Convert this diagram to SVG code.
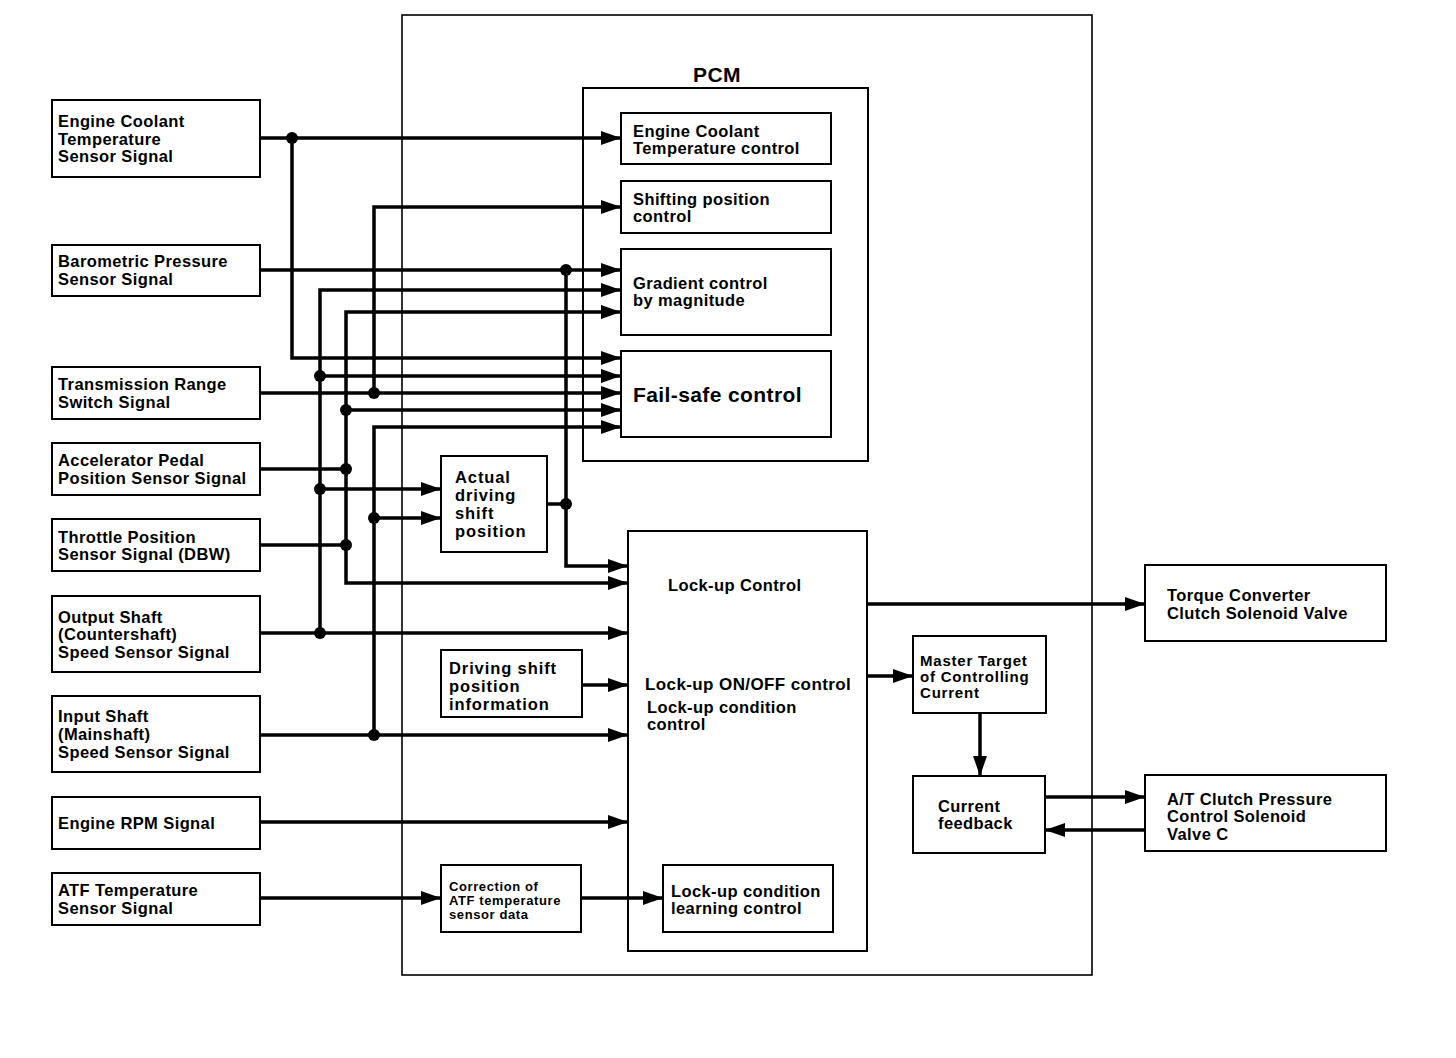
<svg xmlns="http://www.w3.org/2000/svg" width="1456" height="1058" viewBox="0 0 1456 1058">
<defs>
<marker id="ah" markerUnits="userSpaceOnUse" markerWidth="22" markerHeight="14" refX="20" refY="7" orient="auto">
<path d="M0,0 L20,7 L0,14 Z" fill="#000"/>
</marker>
<style>
.box{fill:#fff;stroke:#000;stroke-width:2}
.frame{fill:none;stroke:#000;stroke-width:1.6}
.t{font-family:"Liberation Sans",Arial,sans-serif;font-weight:bold;font-size:16.5px;letter-spacing:0.4px;fill:#000}
.m{font-size:16.5px;letter-spacing:0.9px}
.s{font-size:13px;letter-spacing:0.6px}
.c{fill:none;stroke:#000;stroke-width:3.5}
.a{marker-end:url(#ah)}
.dot{fill:#000}
</style>
</defs>
<rect width="1456" height="1058" fill="#fff"/>

<g id="pcm">
<rect class="frame" x="402" y="15" width="690" height="960"/>
<text class="t" x="717" y="82" text-anchor="middle" style="font-size:21px">PCM</text>
<rect class="box" x="583" y="88" width="285" height="373"/>
</g>

<g id="ect-sensor"><rect class="box" x="52" y="100" width="208" height="77"/>
<text class="t" x="58" y="127">Engine Coolant</text><text class="t" x="58" y="145">Temperature</text><text class="t" x="58" y="162">Sensor Signal</text></g>
<g id="baro-sensor"><rect class="box" x="52" y="245" width="208" height="51"/>
<text class="t" x="58" y="267">Barometric Pressure</text><text class="t" x="58" y="285">Sensor Signal</text></g>
<g id="tr-switch"><rect class="box" x="52" y="367" width="208" height="52"/>
<text class="t" x="58" y="390">Transmission Range</text><text class="t" x="58" y="408">Switch Signal</text></g>
<g id="app-sensor"><rect class="box" x="52" y="443" width="208" height="52"/>
<text class="t" x="58" y="466">Accelerator Pedal</text><text class="t" x="58" y="484">Position Sensor Signal</text></g>
<g id="tp-sensor"><rect class="box" x="52" y="519" width="208" height="52"/>
<text class="t" x="58" y="543">Throttle Position</text><text class="t" x="58" y="560">Sensor Signal (DBW)</text></g>
<g id="output-shaft"><rect class="box" x="52" y="596" width="208" height="76"/>
<text class="t" x="58" y="623">Output Shaft</text><text class="t" x="58" y="640">(Countershaft)</text><text class="t" x="58" y="658">Speed Sensor Signal</text></g>
<g id="input-shaft"><rect class="box" x="52" y="696" width="208" height="76"/>
<text class="t" x="58" y="722">Input Shaft</text><text class="t" x="58" y="740">(Mainshaft)</text><text class="t" x="58" y="758">Speed Sensor Signal</text></g>
<g id="rpm"><rect class="box" x="52" y="797" width="208" height="52"/>
<text class="t" x="58" y="829">Engine RPM Signal</text></g>
<g id="atf-sensor"><rect class="box" x="52" y="873" width="208" height="52"/>
<text class="t" x="58" y="896">ATF Temperature</text><text class="t" x="58" y="914">Sensor Signal</text></g>

<g id="ect-control"><rect class="box" x="621" y="113" width="210" height="51"/>
<text class="t" x="633" y="137">Engine Coolant</text><text class="t" x="633" y="154">Temperature control</text></g>
<g id="shift-control"><rect class="box" x="621" y="181" width="210" height="52"/>
<text class="t" x="633" y="205">Shifting position</text><text class="t" x="633" y="222">control</text></g>
<g id="gradient-control"><rect class="box" x="621" y="249" width="210" height="86"/>
<text class="t" x="633" y="289">Gradient control</text><text class="t" x="633" y="306">by magnitude</text></g>
<g id="failsafe"><rect class="box" x="621" y="351" width="210" height="86"/>
<text class="t" x="633" y="402" style="font-size:21px">Fail-safe control</text></g>

<g id="actual-driving"><rect class="box" x="441" y="456" width="106" height="96"/>
<text class="t m" x="455" y="483">Actual</text><text class="t m" x="455" y="501">driving</text><text class="t m" x="455" y="519">shift</text><text class="t m" x="455" y="537">position</text></g>

<g id="lockup"><rect class="box" x="628" y="531" width="239" height="420"/>
<text class="t" x="668" y="591">Lock-up Control</text>
<text class="t" x="645" y="690" style="font-size:17px">Lock-up ON/OFF control</text>
<text class="t" x="647" y="713">Lock-up condition</text>
<text class="t" x="647" y="730">control</text></g>

<g id="driving-info"><rect class="box" x="441" y="650" width="141" height="67"/>
<text class="t m" x="449" y="674">Driving shift</text><text class="t m" x="449" y="692">position</text><text class="t m" x="449" y="710">information</text></g>

<g id="atf-correction"><rect class="box" x="441" y="865" width="140" height="67"/>
<text class="t s" x="449" y="891">Correction of</text><text class="t s" x="449" y="905">ATF temperature</text><text class="t s" x="449" y="919">sensor data</text></g>

<g id="learning"><rect class="box" x="663" y="865" width="170" height="67"/>
<text class="t" x="671" y="897">Lock-up condition</text><text class="t" x="671" y="914">learning control</text></g>

<g id="master-target"><rect class="box" x="913" y="636" width="133" height="77"/>
<text class="t" x="920" y="666" style="font-size:15px;letter-spacing:0.8px">Master Target</text><text class="t" x="920" y="682" style="font-size:15px;letter-spacing:0.8px">of Controlling</text><text class="t" x="920" y="698" style="font-size:15px;letter-spacing:0.8px">Current</text></g>
<g id="current-feedback"><rect class="box" x="913" y="776" width="132" height="77"/>
<text class="t" x="938" y="812">Current</text><text class="t" x="938" y="829">feedback</text></g>
<g id="tcc"><rect class="box" x="1145" y="565" width="241" height="76"/>
<text class="t" x="1167" y="601">Torque Converter</text><text class="t" x="1167" y="619">Clutch Solenoid Valve</text></g>
<g id="atc"><rect class="box" x="1145" y="775" width="241" height="76"/>
<text class="t" x="1167" y="805">A/T Clutch Pressure</text><text class="t" x="1167" y="822">Control Solenoid</text><text class="t" x="1167" y="840">Valve C</text></g>

<g id="connectors">
<path class="c a" d="M260,138 H621"/>
<path class="c a" d="M292,138 V358 H621"/>
<path class="c a" d="M374,393 V207 H621"/>
<path class="c a" d="M260,270 H621"/>
<path class="c a" d="M566,270 V566 H628"/>
<path class="c" d="M547,504 H566"/>
<path class="c a" d="M320,633 V290 H621"/>
<path class="c a" d="M320,376 H621"/>
<path class="c a" d="M320,489 H441"/>
<path class="c a" d="M260,633 H628"/>
<path class="c a" d="M346,410 V312 H621"/>
<path class="c a" d="M346,410 V583 H628"/>
<path class="c a" d="M346,410 H621"/>
<path class="c" d="M260,469 H346"/>
<path class="c" d="M260,545 H346"/>
<path class="c a" d="M260,393 H621"/>
<path class="c a" d="M374,735 V427 H621"/>
<path class="c a" d="M374,518 H441"/>
<path class="c a" d="M260,735 H628"/>
<path class="c a" d="M582,685 H628"/>
<path class="c a" d="M260,822 H628"/>
<path class="c a" d="M260,898 H441"/>
<path class="c a" d="M581,898 H663"/>
<path class="c a" d="M867,604 H1145"/>
<path class="c a" d="M867,676 H913"/>
<path class="c a" d="M980,713 V776"/>
<path class="c a" d="M1045,797 H1145"/>
<path class="c a" d="M1145,830 H1045"/>
<circle class="dot" cx="292" cy="138" r="6"/>
<circle class="dot" cx="566" cy="270" r="6"/>
<circle class="dot" cx="566" cy="504" r="6"/>
<circle class="dot" cx="320" cy="376" r="6"/>
<circle class="dot" cx="320" cy="489" r="6"/>
<circle class="dot" cx="320" cy="633" r="6"/>
<circle class="dot" cx="374" cy="393" r="6"/>
<circle class="dot" cx="346" cy="410" r="6"/>
<circle class="dot" cx="346" cy="469" r="6"/>
<circle class="dot" cx="346" cy="545" r="6"/>
<circle class="dot" cx="374" cy="518" r="6"/>
<circle class="dot" cx="374" cy="735" r="6"/>
</g>
</svg>
